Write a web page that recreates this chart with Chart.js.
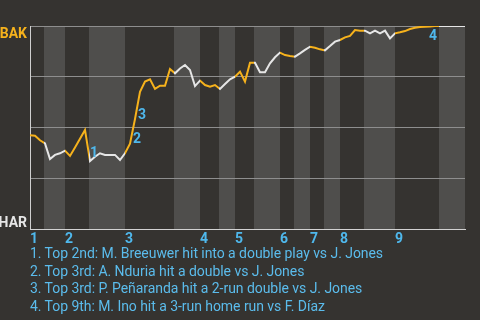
<!DOCTYPE html>
<html>
<head>
<meta charset="utf-8">
<script src="https://cdn.jsdelivr.net/npm/chart.js@4"></script>
<style>
  html, body { margin: 0; padding: 0; background: #353330; }
  #wrap { position: relative; width: 480px; height: 320px; overflow: hidden; }
  #chart { position: absolute; left: 0; top: 0; }
  #notes { position: absolute; left: 30px; top: 245px; margin: 0; padding: 0; list-style: none;
           color: #5bbcec; font: 14px Roboto, sans-serif; line-height: 17.7px; white-space: nowrap;
           letter-spacing: -0.05px; }
</style>
</head>
<body>
<div id="wrap">
  <canvas id="chart" width="480" height="250"></canvas>
  <ul id="notes"></ul>
</div>
<script>
// ===== DATA =====
const teams = ["BAK", "HAR"];   // top = away, bottom = home

// win probability for BAK after each plate appearance (0 = HAR wins, 1 = BAK wins)
const winProb = [
  0.462, 0.459, 0.437, 0.422, 0.345, 0.365, 0.373, 0.386, 0.360, 0.402,
  0.445, 0.488, 0.335, 0.356, 0.373, 0.365, 0.365, 0.365, 0.340, 0.373,
  0.420, 0.542, 0.676, 0.726, 0.737, 0.690, 0.706, 0.706, 0.788, 0.767,
  0.791, 0.808, 0.783, 0.704, 0.731, 0.709, 0.701, 0.709, 0.690, 0.714,
  0.737, 0.750, 0.775, 0.726, 0.819, 0.819, 0.772, 0.772, 0.816, 0.846,
  0.869, 0.857, 0.852, 0.849, 0.865, 0.882, 0.898, 0.893, 0.885, 0.880,
  0.901, 0.923, 0.931, 0.944, 0.951, 0.980, 0.977, 0.977, 0.964, 0.977,
  0.964, 0.977, 0.939, 0.964, 0.969, 0.975, 0.985, 0.991, 0.995, 0.996,
  0.998, 1, 1, 1, 1, 1, 1, 1
];

// half-inning boundaries, in plate appearance units
const topStarts    = [0, 7, 19, 34, 41, 50, 56, 62, 73];
const bottomStarts = [2.8, 11.8, 28.8, 37.8, 44.8, 52.8, 58.8, 66.8, 81.8];
const gameEnd = 87;
const inningLabels = ["1", "2", "3", "4", "5", "6", "7", "8", "9"];

// key plays
const eventIndex = [12, 20, 21, 79];
const eventText = [
  "Top 2nd: M. Breeuwer hit into a double play vs J. Jones",
  "Top 3rd: A. Nduria hit a double vs J. Jones",
  "Top 3rd: P. Peñaranda hit a 2-run double vs J. Jones",
  "Top 9th: M. Ino hit a 3-run home run vs F. Díaz"
];

// ===== STYLE =====
const BAND = "#4f4e4c";
const ORANGE = "#f6b21c";
const WHITE = "#e6e6e6";
const BLUE = "#4fb8ec";
const eventLabelOffset = [[0, -4], [3, -1], [3, 0], [4, 13]];

// ===== PLUGINS =====
const bandsPlugin = {
  id: "bands",
  beforeDraw(chart) {
    const { ctx, chartArea: a, scales: { x } } = chart;
    ctx.save();
    ctx.fillStyle = BAND;
    bottomStarts.forEach((b, i) => {
      const end = i + 1 < topStarts.length ? topStarts[i + 1] : gameEnd;
      const x0 = x.getPixelForValue(b);
      const x1 = x.getPixelForValue(end);
      ctx.fillRect(x0, a.top, x1 - x0, a.bottom - a.top);
    });
    ctx.restore();
  }
};

const textPlugin = {
  id: "texts",
  afterDatasetsDraw(chart) {
    const { ctx, chartArea: a } = chart;
    const meta = chart.getDatasetMeta(0);
    ctx.save();
    ctx.font = "bold 14px Roboto, sans-serif";
    ctx.textAlign = "right";
    ctx.textBaseline = "top";
    ctx.fillStyle = ORANGE;
    ctx.fillText(teams[0], a.left - 3, a.top + 1);
    ctx.textBaseline = "bottom";
    ctx.fillStyle = WHITE;
    ctx.fillText(teams[1], a.left - 3, a.bottom + 1);

    ctx.textAlign = "left";
    ctx.textBaseline = "alphabetic";
    ctx.fillStyle = BLUE;
    eventIndex.forEach((idx, i) => {
      const p = meta.data[idx];
      ctx.fillText(String(i + 1), p.x + eventLabelOffset[i][0], p.y + eventLabelOffset[i][1]);
    });
    ctx.restore();
  }
};

// line colour: orange while BAK bats, white while HAR bats
function lineColor(context) {
  const chart = context.chart;
  const a = chart.chartArea;
  if (!a) return ORANGE;
  const x = chart.scales.x;
  const g = chart.ctx.createLinearGradient(a.left, 0, a.right, 0);
  const w = a.right - a.left;
  const f = v => Math.min(1, Math.max(0, (x.getPixelForValue(v) - a.left) / w));
  topStarts.forEach((t, i) => {
    const b = bottomStarts[i];
    const end = i + 1 < topStarts.length ? topStarts[i + 1] : gameEnd;
    g.addColorStop(f(t), ORANGE);
    g.addColorStop(f(b), ORANGE);
    g.addColorStop(f(b), WHITE);
    g.addColorStop(f(end), WHITE);
  });
  return g;
}

// ===== CHART =====
const ctx = document.getElementById("chart").getContext("2d");

new Chart(ctx, {
  type: "line",
  data: {
    datasets: [{
      data: winProb.map((p, i) => ({ x: i, y: p })),
      borderColor: lineColor,
      borderWidth: 2,
      pointRadius: 0,
      tension: 0,
      fill: false
    }]
  },
  options: {
    responsive: false,
    animation: false,
    layout: { padding: { left: 30, right: 15, top: 26, bottom: 0 } },
    plugins: { legend: { display: false }, tooltip: { enabled: false } },
    scales: {
      x: {
        type: "linear",
        min: 0,
        max: gameEnd,
        afterFit(scale) { scale.height = 21; },
        afterBuildTicks(scale) { scale.ticks = topStarts.map(v => ({ value: v })); },
        ticks: {
          align: "start",
          padding: 2,
          color: BLUE,
          font: { family: "Roboto", size: 14, weight: "bold" },
          callback: (v, i) => inningLabels[i]
        },
        grid: { display: false, drawTicks: false },
        border: { display: true, color: "#d2d2d2", width: 1 }
      },
      y: {
        min: 0,
        max: 1,
        afterFit(scale) { scale.width = 0; },
        ticks: { display: false, stepSize: 0.25 },
        grid: { color: "#8e8e8e", drawTicks: false, lineWidth: 1 },
        border: { display: true, color: "#cfcfcf", width: 1 }
      }
    }
  },
  plugins: [bandsPlugin, textPlugin]
});

// ===== NOTES =====
const notes = document.getElementById("notes");
eventText.forEach((t, i) => {
  const li = document.createElement("li");
  li.textContent = (i + 1) + ". " + t;
  notes.appendChild(li);
});
</script>
</body>
</html>
